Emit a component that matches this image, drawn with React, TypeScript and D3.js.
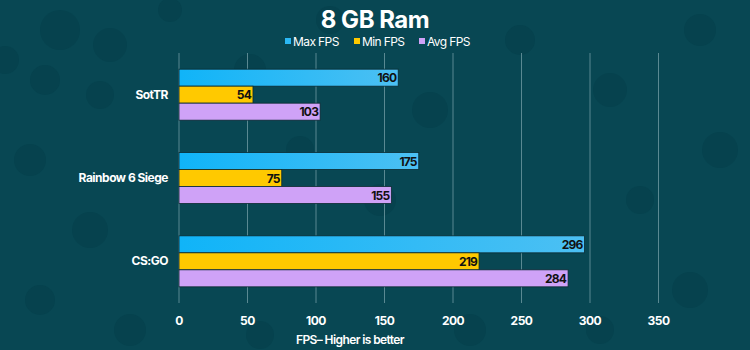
import React, { useEffect, useRef } from 'react';
import * as d3 from 'd3';

const games = ['SotTR', 'Rainbow 6 Siege', 'CS:GO'];
const seriesNames = ['Max FPS', 'Min FPS', 'Avg FPS'];
const maxFps = [160, 175, 296];
const minFps = [54, 75, 219];
const avgFps = [103, 155, 284];
const xTicks = [0, 50, 100, 150, 200, 250, 300, 350];
const seriesColors = ['#2bb8f5', '#ffc900', '#cfa2f7'];

// background blobs, purely decorative
const blobs = [
  [60, 30, 20], [110, 45, 17], [5, 60, 14], [45, 80, 15], [100, 95, 14],
  [170, 10, 12], [250, 70, 16], [330, 20, 14], [430, 110, 18], [520, 40, 15],
  [610, 90, 17], [700, 30, 16], [720, 150, 18], [640, 200, 14], [30, 160, 16],
  [90, 230, 18], [40, 300, 15], [130, 330, 16], [260, 335, 14], [470, 330, 16],
  [690, 290, 18], [600, 330, 14], [380, 200, 16], [300, 150, 14],
];

const FONT = 'Inter, "Open Sans", sans-serif';

export default function App() {
  const ref = useRef<SVGSVGElement>(null);

  useEffect(() => {
    const svg = d3.select(ref.current);
    svg.selectAll('*').remove();
    const W = 750, H = 350;
    const left = 179, right = 658.5, top = 53, bottom = 303;

    svg.append('rect').attr('width', W).attr('height', H).attr('fill', '#084753');
    svg.append('g').selectAll('circle').data(blobs).enter().append('circle')
      .attr('cx', d => d[0]).attr('cy', d => d[1]).attr('r', d => d[2])
      .attr('fill', '#033a44').attr('opacity', 0.35);

    const defs = svg.append('defs');
    const grad = defs.append('linearGradient').attr('id', 'maxg');
    grad.append('stop').attr('offset', '0%').attr('stop-color', '#10b4f8');
    grad.append('stop').attr('offset', '100%').attr('stop-color', '#4cc0f3');

    const x = d3.scaleLinear().domain([0, 350]).range([left, right]);
    const y = d3.scaleBand().domain(games).range([top, bottom]).paddingInner(0.388).paddingOuter(0.194);
    const ySub = d3.scaleBand().domain(seriesNames).range([0, y.bandwidth()]);

    // title + legend
    svg.append('text').attr('x', 375).attr('y', 28).attr('text-anchor', 'middle')
      .attr('fill', '#fff').attr('font-family', FONT).attr('font-weight', 700)
      .attr('font-size', 24).attr('letter-spacing', -0.5).text('8 GB Ram');

    const legendX = [292, 361, 426];
    const lg = svg.append('g').selectAll('g').data(seriesNames).enter().append('g')
      .attr('transform', (d, i) => `translate(${legendX[i]},42)`);
    lg.append('rect').attr('x', -7).attr('y', -4).attr('width', 6).attr('height', 6)
      .attr('fill', (d, i) => seriesColors[i]);
    lg.append('text').attr('x', 1).attr('y', 4).attr('fill', '#fff').attr('font-family', FONT)
      .attr('font-size', 12).attr('letter-spacing', -0.6).text(d => d);

    // grid
    svg.append('g').selectAll('line').data(xTicks).enter().append('line')
      .attr('x1', d => x(d)).attr('x2', d => x(d)).attr('y1', top).attr('y2', bottom)
      .attr('stroke', '#6f9aa2').attr('stroke-width', 1).attr('opacity', 0.8);

    svg.append('g').selectAll('text').data(xTicks).enter().append('text')
      .attr('x', d => x(d)).attr('y', 325).attr('text-anchor', 'middle')
      .attr('fill', '#fff').attr('font-family', FONT).attr('font-weight', 700)
      .attr('font-size', 12).attr('letter-spacing', -0.5).text(d => d);

    svg.append('text').attr('x', 350).attr('y', 344).attr('text-anchor', 'middle')
      .attr('fill', '#fff').attr('font-family', FONT).attr('font-weight', 600)
      .attr('font-size', 12).attr('letter-spacing', -0.6).text('FPS\u2013 Higher is better');

    // category labels
    svg.append('g').selectAll('text').data(games).enter().append('text')
      .attr('x', left - 11).attr('y', d => (y(d) as number) + y.bandwidth() / 2 + 4)
      .attr('text-anchor', 'end').attr('fill', '#fff').attr('font-family', FONT)
      .attr('font-weight', 700).attr('font-size', 12).attr('letter-spacing', -0.5).text(d => d);

    const series = [maxFps, minFps, avgFps];
    series.forEach((vals, si) => {
      const g = svg.append('g');
      g.selectAll('rect').data(vals).enter().append('rect')
        .attr('x', x(0))
        .attr('y', (d, i) => (y(games[i]) as number) + (ySub(seriesNames[si]) as number))
        .attr('width', d => x(d) - x(0))
        .attr('height', ySub.bandwidth())
        .attr('fill', si === 0 ? 'url(#maxg)' : seriesColors[si])
        .attr('stroke', '#0b2a30').attr('stroke-width', 0.8);
      g.selectAll('text').data(vals).enter().append('text')
        .attr('x', d => x(d) - 2)
        .attr('y', (d, i) => (y(games[i]) as number) + (ySub(seriesNames[si]) as number) + ySub.bandwidth() / 2 + 4.5)
        .attr('text-anchor', 'end').attr('fill', '#111').attr('font-family', FONT)
        .attr('font-weight', 700).attr('font-size', 12).attr('letter-spacing', -0.8).text(d => d);
    });
  }, []);

  return (
    <div style={{ position: 'absolute', left: 0, top: 0 }}>
      <svg ref={ref} width={750} height={350} style={{ display: 'block' }} />
    </div>
  );
}
